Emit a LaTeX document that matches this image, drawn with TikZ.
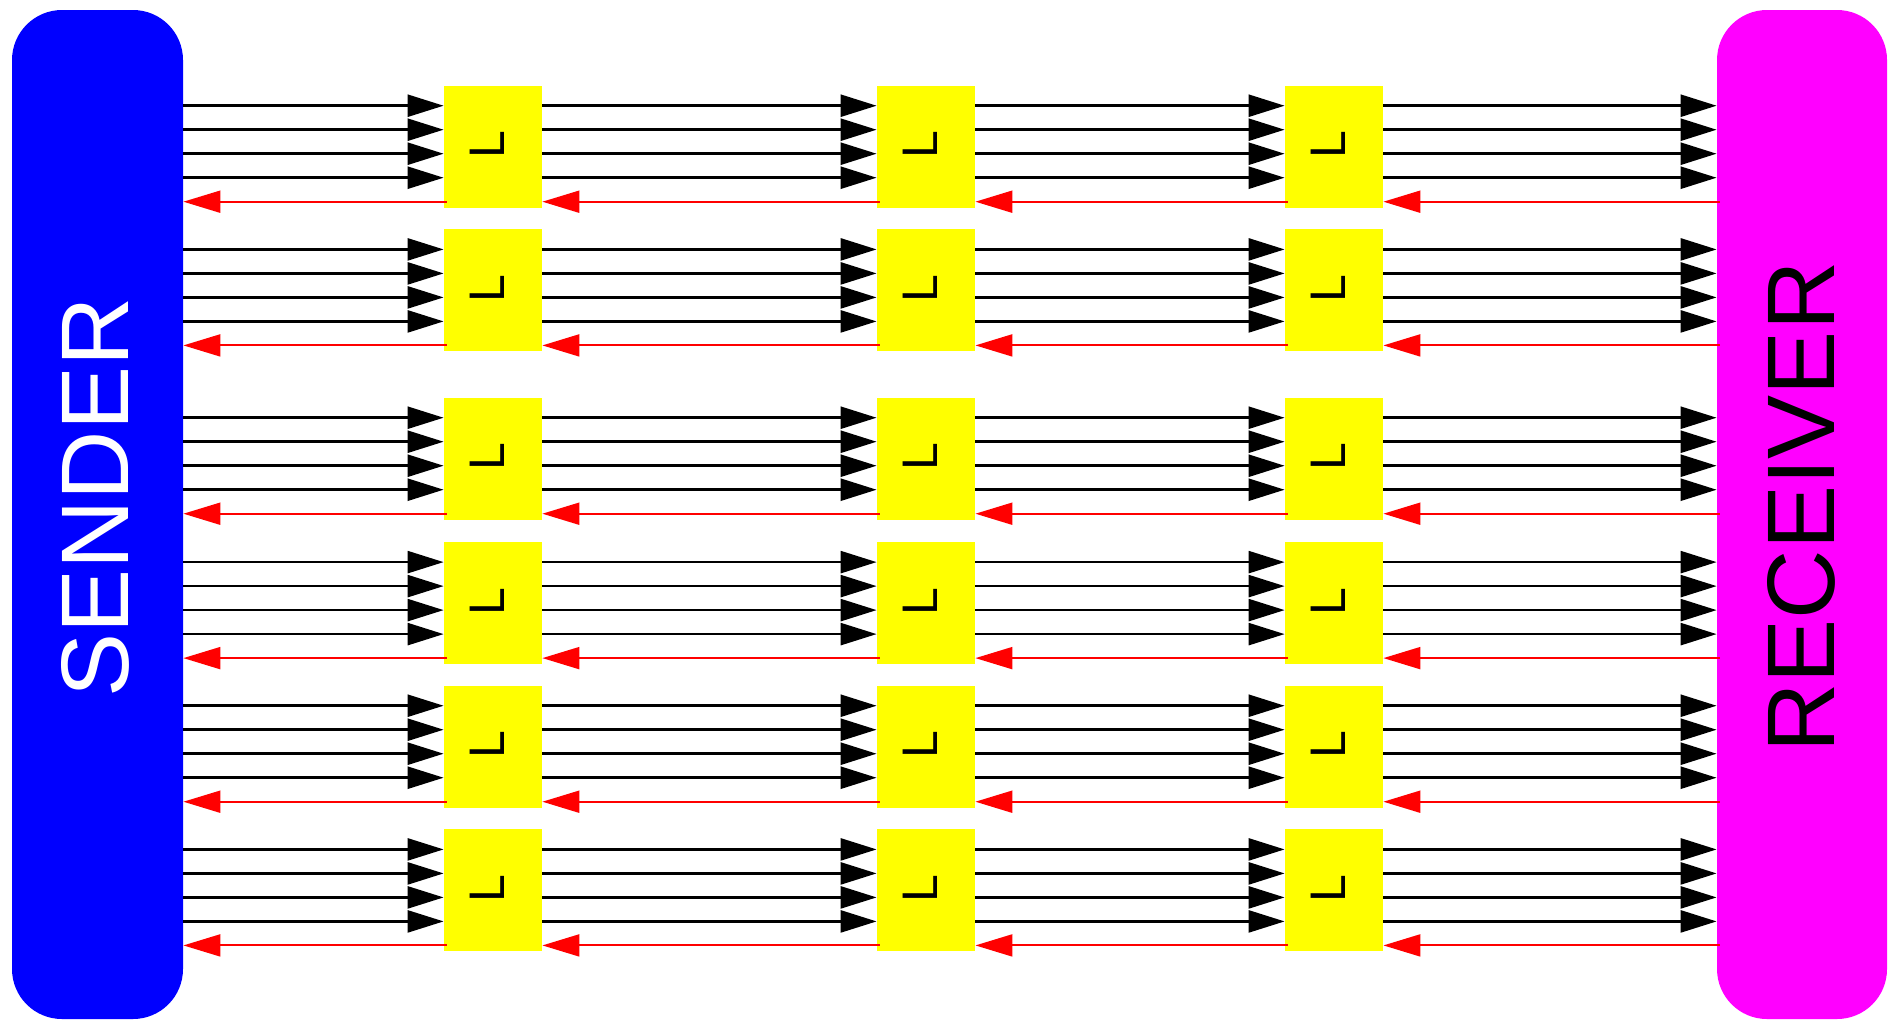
\documentclass[tikz,border=0pt]{standalone}
\usepackage{fontspec}
\setmainfont{Liberation Sans}
\usepackage{tikz}
\usetikzlibrary{arrows.meta}
\definecolor{SendBlue}{RGB}{0,0,255}
\definecolor{RecvMagenta}{RGB}{255,0,255}
\definecolor{RelayYellow}{RGB}{255,255,0}
\definecolor{AckRed}{RGB}{255,0,0}
\tikzset{
  endbox/.style={rectangle,rounded corners=25pt,inner sep=0pt,minimum width=85.5pt,minimum height=504.5pt},
  relay/.style={rectangle,fill=RelayYellow,inner sep=0pt,minimum width=49pt,minimum height=61pt},
  bigname/.style={rotate=90,inner sep=0pt,font=\fontsize{48}{48}\selectfont},
  glyph/.style={rotate=90,inner sep=0pt,font=\fontsize{25}{25}\selectfont},
  fwd/.style={draw=black,line width=1.25pt,-{Triangle[length=18pt,width=11pt]}},
  ack/.style={draw=AckRed,line width=1pt,shorten <=-1.5pt,-{Triangle[length=18.5pt,width=11pt]}},
}

\begin{document}
\begin{tikzpicture}[x=0.5pt,y=-0.5pt]
\useasboundingbox (0,0) rectangle (1893,1019);
\node[endbox,fill=SendBlue] (sender) at (97.5,514.5) {};
\node[endbox,fill=RecvMagenta,minimum width=85pt] (receiver) at (1802,514.5) {};
\node[bigname,text=white] (sendername) at (95.7,497.5) {SENDER};
\node[bigname,text=black] (receivername) at (1801,507) {RECEIVER};
% relay boxes, three columns, six rows
\foreach \r/\y in {1/146.7,2/290.4,3/458.7,4/603.1,5/746.7,6/890.4}{
  \foreach \c/\x in {1/493,2/926,3/1334}{
    \node[relay] (b\c\r) at (\x,\y) {};
    \node[glyph] (l\c\r) at ([xshift=-3pt,yshift=1pt]b\c\r.center) {L};
  }
}
% four data lines and one ack per row
\foreach \r in {1,...,6}{
  \foreach \s in {20.5,8.5,-3.5,-15.5}{
    \coordinate (in) at ([yshift=\s pt]b1\r.west);
    \coordinate (out) at ([yshift=\s pt]b3\r.east);
    \draw[fwd] (sender.east |- in) -- (in);
    \draw[fwd] ([yshift=\s pt]b1\r.east) -- ([yshift=\s pt]b2\r.west);
    \draw[fwd] ([yshift=\s pt]b2\r.east) -- ([yshift=\s pt]b3\r.west);
    \draw[fwd] (out) -- (receiver.west |- out);
  }
  \coordinate (ain) at ([yshift=-27.5pt]b1\r.west);
  \coordinate (aout) at ([yshift=-27.5pt]b3\r.east);
  \draw[ack] (ain) -- (sender.east |- ain);
  \draw[ack] ([yshift=-27.5pt]b2\r.west) -- ([yshift=-27.5pt]b1\r.east);
  \draw[ack] ([yshift=-27.5pt]b3\r.west) -- ([yshift=-27.5pt]b2\r.east);
  \draw[ack] (receiver.west |- aout) -- (aout);
}
\end{tikzpicture}
\end{document}
